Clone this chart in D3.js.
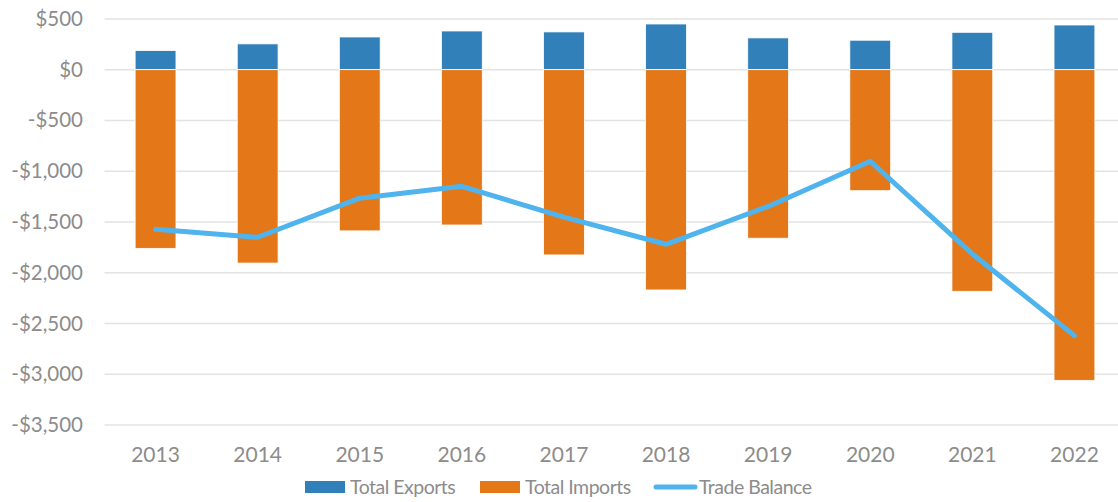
<!DOCTYPE html>
<html>
<head>
<meta charset="utf-8">
<script src="https://cdn.jsdelivr.net/npm/d3@7/dist/d3.min.js"></script>
<style>
  body { margin: 0; background: #fff; }
  svg text { font-family: Lato, "Open Sans", sans-serif; fill: #8c8c8c; }
</style>
</head>
<body>
<svg id="chart" width="1118" height="502"></svg>
<script>
// values in $ millions
const years = ['2013', '2014', '2015', '2016', '2017', '2018', '2019', '2020', '2021', '2022'];
const totalExports = [188, 254, 322, 381, 372, 450, 313, 290, 368, 440];
const totalImports = [-1760, -1905, -1588, -1530, -1825, -2170, -1660, -1192, -2183, -3060];
const tradeBalance = [-1572, -1651, -1266, -1149, -1453, -1720, -1347, -902, -1815, -2620];
const yTicks = [500, 0, -500, -1000, -1500, -2000, -2500, -3000, -3500];

const svg = d3.select('#chart');

const x = d3.scaleBand()
    .domain(years)
    .range([104.5, 1125.5])
    .paddingInner(0.6)
    .paddingOuter(0.3);

const y = d3.scaleLinear()
    .domain([-3500, 500])
    .range([425, 18.9]);

const fmt = (d) => (d < 0 ? '-$' : '$') + d3.format(',')(Math.abs(d));

// gridlines
svg.append('g')
    .selectAll('line')
    .data(yTicks)
    .join('line')
    .attr('x1', 104.5)
    .attr('x2', 1118)
    .attr('y1', (d) => y(d))
    .attr('y2', (d) => y(d))
    .attr('stroke', '#e3e3e3')
    .attr('stroke-width', 1.5);

// y axis labels
const yAxis = svg.append('g')
    .attr('transform', 'translate(83,0)')
    .call(d3.axisLeft(y).tickValues(yTicks).tickFormat(fmt).tickSize(0).tickPadding(0));
yAxis.select('.domain').remove();
yAxis.selectAll('text')
    .attr('font-size', 20.5)
    .style('font-family', 'Lato, "Open Sans", sans-serif')
    .attr('fill', '#8c8c8c');

// x axis labels
const xAxis = svg.append('g')
    .attr('transform', 'translate(0,455)')
    .call(d3.axisBottom(x).tickSize(0).tickPadding(0));
xAxis.select('.domain').remove();
xAxis.selectAll('text')
    .attr('dy', '0.35em')
    .attr('font-size', 21)
    .style('font-family', 'Lato, "Open Sans", sans-serif')
    .attr('fill', '#8c8c8c');

// bars
const bars = svg.append('g');
bars.selectAll('rect.exp')
    .data(years)
    .join('rect')
    .attr('class', 'exp')
    .attr('x', (d) => x(d))
    .attr('width', x.bandwidth())
    .attr('y', (d, i) => y(totalExports[i]))
    .attr('height', (d, i) => y(0) - y(totalExports[i]))
    .attr('fill', '#3180ba')
    .attr('stroke', '#fff')
    .attr('stroke-width', 0.8);

bars.selectAll('rect.imp')
    .data(years)
    .join('rect')
    .attr('class', 'imp')
    .attr('x', (d) => x(d))
    .attr('width', x.bandwidth())
    .attr('y', y(0))
    .attr('height', (d, i) => y(totalImports[i]) - y(0))
    .attr('fill', '#e47718')
    .attr('stroke', '#fff')
    .attr('stroke-width', 0.8);

// trade balance line
const line = d3.line()
    .x((d, i) => x(years[i]) + x.bandwidth() / 2)
    .y((d) => y(d));

svg.append('path')
    .datum(tradeBalance)
    .attr('d', line)
    .attr('fill', 'none')
    .attr('stroke', '#4fb4ee')
    .attr('stroke-width', 5)
    .attr('stroke-linecap', 'round')
    .attr('stroke-linejoin', 'round');

// legend
const legend = svg.append('g').attr('transform', 'translate(0,487)');
const items = [
    { label: 'Total Exports', color: '#3180ba', type: 'rect', x: 305 },
    { label: 'Total Imports', color: '#e47718', type: 'rect', x: 480 },
    { label: 'Trade Balance', color: '#4fb4ee', type: 'line', x: 654 }
];
items.forEach((it) => {
    if (it.type === 'rect') {
        legend.append('rect')
            .attr('x', it.x).attr('y', -6).attr('width', 40).attr('height', 12)
            .attr('fill', it.color);
    } else {
        legend.append('line')
            .attr('x1', it.x + 2).attr('x2', it.x + 41).attr('y1', 0).attr('y2', 0)
            .attr('stroke', it.color).attr('stroke-width', 5).attr('stroke-linecap', 'round');
    }
    legend.append('text')
        .attr('x', it.x + 45)
        .attr('y', 0)
        .attr('dy', '0.35em')
        .attr('font-size', 19.5)
        .attr('letter-spacing', -0.5)
        .text(it.label);
});
</script>
</body>
</html>
